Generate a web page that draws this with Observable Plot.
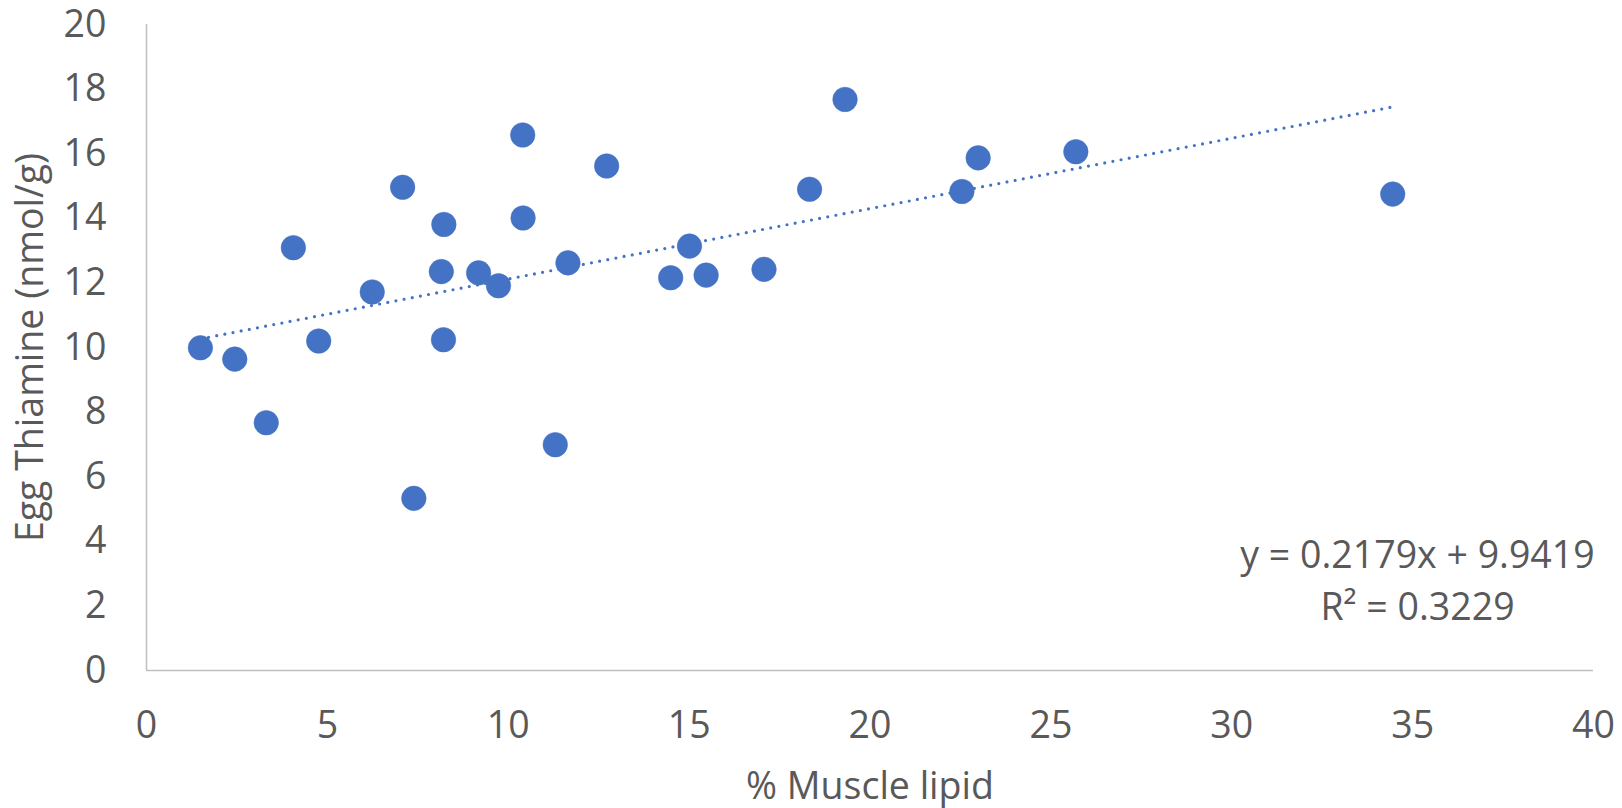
<!DOCTYPE html>
<html>
<head>
<meta charset="utf-8">
<script src="https://cdn.jsdelivr.net/npm/d3@7"></script>
<script src="https://cdn.jsdelivr.net/npm/@observablehq/plot@0.6"></script>
<style>
  html, body { margin: 0; padding: 0; background: #fff; }
</style>
</head>
<body>
<div id="chart"></div>
<script>
// % Muscle lipid (x) and Egg Thiamine nmol/g (y)
const muscleLipid = [1.49, 2.44, 3.31, 4.06, 4.76, 6.24, 7.08, 7.39, 8.15, 8.21, 8.22, 9.18, 9.73, 10.40, 10.41, 11.30, 11.65, 12.72, 14.49, 15.01, 15.47, 17.07, 18.33, 19.31, 22.54, 22.99, 25.69, 34.45];
const eggThiamine = [9.99, 9.64, 7.67, 13.09, 10.20, 11.72, 14.96, 5.33, 12.35, 10.24, 13.81, 12.31, 11.91, 16.58, 14.01, 6.99, 12.62, 15.62, 12.16, 13.14, 12.24, 12.42, 14.90, 17.68, 14.83, 15.87, 16.06, 14.75];
const xTicks = [0, 5, 10, 15, 20, 25, 30, 35, 40];
const yTicks = [0, 2, 4, 6, 8, 10, 12, 14, 16, 18, 20];
const trendSlope = 0.2179;
const trendIntercept = 9.9419;
const rSquared = 0.3229;
const equationLines = [`y = ${trendSlope}x + ${trendIntercept}`, `R² = ${rSquared}`];

const points = muscleLipid.map((x, i) => ({x, y: eggThiamine[i]}));
const xMin = d3.min(muscleLipid), xMax = d3.max(muscleLipid);
const trend = [xMin, xMax].map(x => ({x, y: trendSlope * x + trendIntercept}));

const blue = "#4472C4";
const grey = "#595959";

const chart = Plot.plot({
  width: 1622,
  height: 808,
  marginLeft: 146,
  marginRight: 29,
  marginTop: 24,
  marginBottom: 138,
  style: {fontFamily: "'Open Sans', Lato, sans-serif", fontSize: "37.5px", color: grey, background: "#fff"},
  x: {domain: [0, 40]},
  y: {domain: [0, 20]},
  marks: [
    Plot.ruleX([0], {stroke: "#bfbfbf", strokeWidth: 1.5}),
    Plot.ruleY([0], {stroke: "#bfbfbf", strokeWidth: 1.5}),
    Plot.axisX({ticks: xTicks, tickSize: 0, tickPadding: 41, label: null, fill: grey}),
    Plot.axisY({ticks: yTicks, tickSize: 0, tickPadding: 40, label: null, fill: grey}),
    Plot.line(trend, {x: "x", y: "y", stroke: blue, strokeWidth: 3.2, strokeDasharray: "0 8.3", strokeLinecap: "round"}),
    Plot.dot(points, {x: "x", y: "y", r: 12.3, fill: blue, stroke: blue, strokeWidth: 0.5}),
    Plot.text([equationLines[0]], {frameAnchor: "bottom-right", dx: -176, dy: -115, text: d => d, textAnchor: "middle", lineAnchor: "middle", fill: grey}),
    Plot.text([equationLines[1]], {frameAnchor: "bottom-right", dx: -176, dy: -63, text: d => d, textAnchor: "middle", lineAnchor: "middle", fill: grey}),
    Plot.text(["% Muscle lipid"], {frameAnchor: "bottom", dy: 116, text: d => d, textAnchor: "middle", lineAnchor: "middle", fill: grey}),
    Plot.text(["Egg Thiamine (nmol/g)"], {frameAnchor: "left", dx: -116, rotate: -90, text: d => d, textAnchor: "middle", lineAnchor: "middle", fill: grey})
  ]
});
document.getElementById("chart").appendChild(chart);
</script>
</body>
</html>
